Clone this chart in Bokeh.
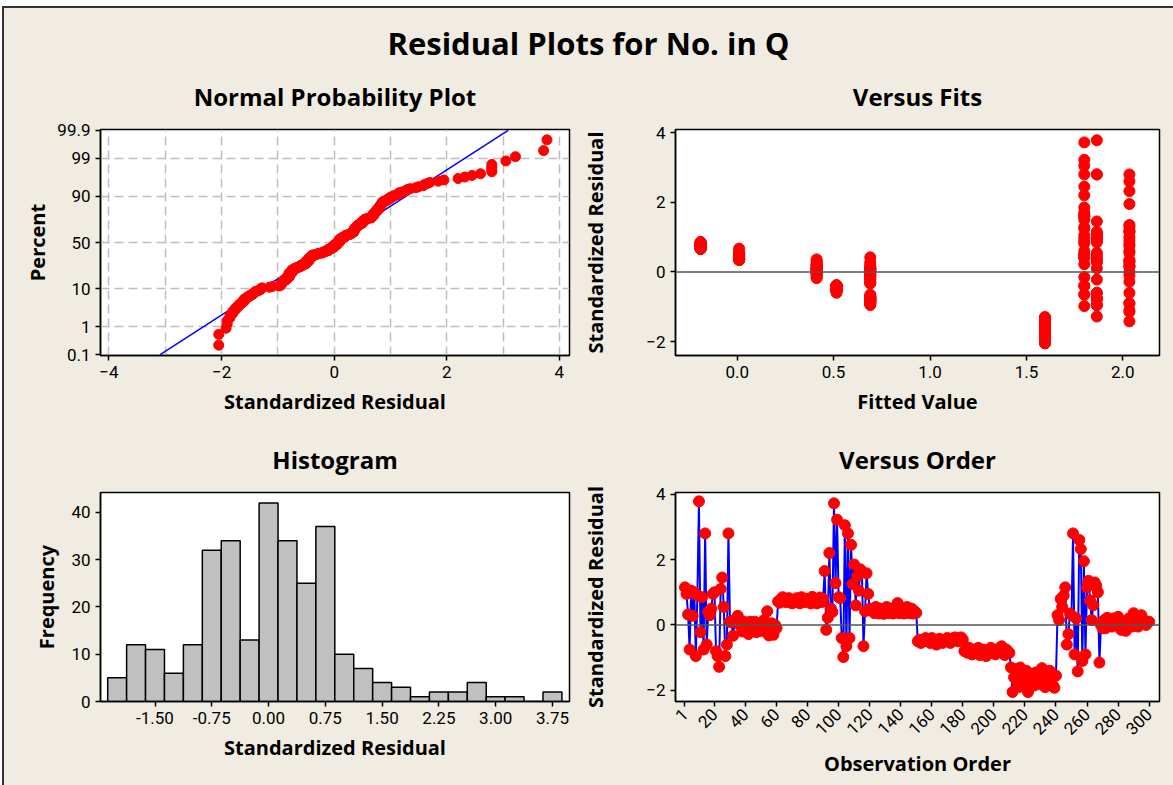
import math
from statistics import NormalDist
from bokeh.plotting import figure
from bokeh.models import Range1d, FixedTicker, NumeralTickFormatter, CustomJSTickFormatter, Span, Div
from bokeh.layouts import row, column
from bokeh.embed import file_html
from bokeh.resources import INLINE

BG = "#F0ECE2"
FONT = "Roboto"
TFONT = "Open Sans"

# ---- standardized residuals in observation order, 10 blocks of 30 ----
seg01 = [1.15, 0.95, 0.32, -0.75, 1.05, 0.28, 1.0, -0.95, 0.9, 3.78, -0.22, 0.85, -0.75, 2.8, -0.6,
         0.4, 0.3, 0.5, 0.95, 1.0, -0.8, -0.95, -1.28, 1.1, 1.45, 0.55, -0.95, -0.6, 2.8, 0.1]
seg02 = [0.08, -0.33, 0.12, 0.2, 0.28, 0.05, -0.05, -0.2, 0.1, -0.15, 0.05, -0.28, 0.1, -0.1, 0.0,
         0.1, -0.22, 0.05, -0.1, -0.18, 0.0, 0.15, -0.05, 0.42, -0.32, -0.1, 0.05, -0.3, 0.0, -0.1]
seg03 = [0.72, 0.68, 0.8, 0.85, 0.75, 0.7, 0.78, 0.82, 0.7, 0.66, 0.72, 0.76, 0.82, 0.7, 0.66,
         0.85, 0.75, 0.7, 0.8, 0.76, 0.7, 0.66, 0.86, 0.8, 0.72, 0.66, 0.75, 0.84, 0.7, 0.8]
seg04 = [1.65, -0.15, 0.22, 2.2, 0.5, 0.4, 3.72, 1.28, 3.22, 0.85, 0.82, -0.4, -0.98, 3.05, -0.65,
         2.8, -0.4, 2.45, 1.25, 1.85, 0.6, 1.5, 1.05, 1.7, 1.6, -0.65, 0.42, 1.58, 0.95, 0.5]
seg05 = [0.45, 0.5, 0.36, 0.55, 0.42, 0.35, 0.5, 0.37, 0.34, 0.48, 0.55, 0.36, 0.4, 0.5, 0.35,
         0.37, 0.45, 0.67, 0.36, 0.4, 0.52, 0.35, 0.37, 0.55, 0.45, 0.36, 0.5, 0.35, 0.42, 0.37]
seg06 = [-0.5, -0.45, -0.55, -0.5, -0.45, -0.4, -0.5, -0.45, -0.55, -0.4, -0.5, -0.45, -0.6, -0.5, -0.42,
         -0.45, -0.55, -0.5, -0.45, -0.4, -0.5, -0.55, -0.45, -0.4, -0.38, -0.45, -0.5, -0.4, -0.38, -0.45]
seg07 = [-0.8, -0.75, -0.85, -0.7, -0.8, -0.9, -0.75, -0.85, -0.8, -0.7, -0.92, -0.8, -0.75, -0.85, -0.95,
         -0.8, -0.75, -0.7, -0.85, -0.8, -0.9, -0.75, -0.8, -0.7, -0.65, -0.8, -0.92, -0.75, -0.8, -0.85]
seg08 = [-1.3, -2.05, -1.6, -1.35, -1.75, -1.9, -1.3, -1.65, -1.5, -1.8, -1.4, -2.05, -1.6, -1.7, -1.5,
         -1.85, -1.45, -1.65, -1.8, -1.55, -1.32, -1.75, -1.9, -1.45, -1.6, -1.4, -1.7, -1.85, -1.92, -1.55]
seg09 = [0.3, 0.15, 0.8, 0.55, 0.9, 1.15, -0.6, -0.28, 0.35, 0.3, 2.8, -0.9, 0.2, -1.42, 2.6,
         2.32, -1.1, 1.95, -0.9, 1.15, 1.35, 0.75, 0.15, 0.6, 1.3, 1.2, 1.0, -1.15, 0.0, -0.1]
seg10 = [0.15, -0.1, 0.22, 0.05, 0.1, -0.05, 0.2, 0.0, 0.1, 0.25, 0.05, -0.15, 0.1, 0.0, -0.18,
         0.1, 0.2, 0.05, -0.05, 0.36, 0.0, 0.12, -0.05, 0.05, 0.3, 0.18, 0.1, 0.0, 0.08, 0.1]
segments = [seg01, seg02, seg03, seg04, seg05, seg06, seg07, seg08, seg09, seg10]

# fitted value of each block
segment_fits = [1.865, 0.69, -0.19, 1.80, 0.01, 0.515, 0.69, 1.596, 2.034, 0.412]

# histogram
hist_first_mid = -2.0
hist_bin_width = 0.25
hist_counts = [5, 12, 11, 6, 12, 32, 34, 13, 42, 34, 25, 37, 10, 7, 4, 3, 1, 2, 2, 4, 1, 1, 0, 2]

# normal probability plot
pct_ticks = [0.1, 1, 10, 50, 90, 99, 99.9]
pct_labels = ["0.1", "1", "10", "50", "90", "99", "99.9"]
pct_grid = [1, 10, 50, 90, 99]
fit_mean = 0.0
fit_sd = 1.0

hist_ticks = [-1.5, -0.75, 0.0, 0.75, 1.5, 2.25, 3.0, 3.75]
fits_ticks = [0.0, 0.5, 1.0, 1.5, 2.0]
order_ticks = [1, 20, 40, 60, 80, 100, 120, 140, 160, 180, 200, 220, 240, 260, 280, 300]

residuals = [v for s in segments for v in s]
n = len(residuals)
order = list(range(1, n + 1))
fitted = [f for f, s in zip(segment_fits, segments) for _ in s]

nd = NormalDist()
def zq(p):
    return nd.inv_cdf(p / 100.0)


def base_style(p, title):
    p.background_fill_color = "white"
    p.border_fill_color = BG
    p.outline_line_color = "black"
    p.outline_line_width = 1.5
    p.outline_line_alpha = 1.0
    p.title.text = title
    p.title.align = "center"
    p.title.text_font = TFONT
    p.title.text_font_size = "24px"
    p.title.text_font_style = "bold"
    p.title.text_color = "black"
    p.title.standoff = 34
    for ax in (p.xaxis[0], p.yaxis[0]):
        ax.axis_line_color = "black"
        ax.axis_line_width = 1.5
        ax.major_tick_line_color = "black"
        ax.major_tick_line_width = 1.5
        ax.major_tick_in = 0
        ax.major_tick_out = 5
        ax.minor_tick_line_color = None
        ax.major_label_text_font = FONT
        ax.major_label_text_font_size = "17px"
        ax.major_label_text_color = "black"
        ax.major_label_standoff = 5
        ax.axis_label_text_font = TFONT
        ax.axis_label_text_font_size = "20px"
        ax.axis_label_text_font_style = "bold"
        ax.axis_label_text_color = "black"
    p.xgrid.grid_line_color = None
    p.ygrid.grid_line_color = None


def make_fig(w, h, left, right, top, bottom, xr, yr):
    p = figure(width=w, height=h, output_backend="svg", toolbar_location=None,
               x_range=Range1d(*xr), y_range=Range1d(*yr),
               min_border_left=left, min_border_right=right,
               min_border_top=top, min_border_bottom=bottom, margin=0)
    return p

# ---------------- Normal probability plot ----------------
p1 = make_fig(571, 360, 96, 6, 68, 65, (-4.15, 4.18), (-3.115, 3.115))
base_style(p1, "Normal Probability Plot")
sorted_res = sorted(residuals)
pp_z = [zq(100.0 * (i + 1 - 0.3) / (n + 0.4)) for i in range(n)]
zt = [zq(t) for t in pct_ticks]
p1.yaxis[0].ticker = FixedTicker(ticks=zt)
p1.yaxis[0].formatter = CustomJSTickFormatter(args=dict(tv=zt, tl=pct_labels), code="""
for (let i = 0; i < tv.length; i++) { if (Math.abs(tv[i] - tick) < 1e-6) return tl[i]; }
return '';
""")
p1.xaxis[0].ticker = FixedTicker(ticks=[-4, -2, 0, 2, 4])
p1.xgrid.ticker = FixedTicker(ticks=[-4, -3, -2, -1, 0, 1, 2, 3, 4])
p1.ygrid.ticker = FixedTicker(ticks=[zq(g) for g in pct_grid])
for g in (p1.xgrid, p1.ygrid):
    g.grid_line_color = "#BEBEBE"
    g.grid_line_width = 1.5
    g.grid_line_dash = "9 5"
p1.xaxis.axis_label = "Standardized Residual"
p1.yaxis.axis_label = "Percent"
p1.xaxis[0].axis_label_standoff = 7
p1.yaxis[0].axis_label_standoff = 3
zl = [zq(0.1), zq(99.9)]
p1.line([fit_mean + z * fit_sd for z in zl], zl, line_color="#0000FF", line_width=1.5)
p1.scatter(sorted_res, pp_z, size=10, fill_color="#FF0000", line_color="#FF0000")

# ---------------- Versus fits ----------------
p2 = make_fig(598, 360, 100, 14, 68, 65, (-0.32, 2.19), (-2.4, 4.09))
base_style(p2, "Versus Fits")
p2.xaxis[0].ticker = FixedTicker(ticks=fits_ticks)
p2.xaxis[0].formatter = NumeralTickFormatter(format="0.0")
p2.yaxis[0].ticker = FixedTicker(ticks=[-2, 0, 2, 4])
p2.xaxis.axis_label = "Fitted Value"
p2.yaxis.axis_label = "Standardized Residual"
p2.xaxis[0].axis_label_standoff = 7
p2.yaxis[0].axis_label_standoff = 34
p2.add_layout(Span(location=0, dimension="width", line_color="#555555", line_width=1.5))
p2.scatter(fitted, residuals, size=11, fill_color="#FF0000", line_color="#FF0000")

# ---------------- Histogram ----------------
p3 = make_fig(571, 365, 96, 6, 72, 84, (-2.22, 3.975), (0, 44.2))
base_style(p3, "Histogram")
mids = [hist_first_mid + i * hist_bin_width for i in range(len(hist_counts))]
p3.vbar(x=mids, top=hist_counts, width=hist_bin_width, bottom=0,
        fill_color="#C0C0C0", line_color="black", line_width=1.5)
p3.xaxis[0].ticker = FixedTicker(ticks=hist_ticks)
p3.xaxis[0].formatter = NumeralTickFormatter(format="0.00")
p3.yaxis[0].ticker = FixedTicker(ticks=[0, 10, 20, 30, 40])
p3.xaxis.axis_label = "Standardized Residual"
p3.yaxis.axis_label = "Frequency"
p3.xaxis[0].axis_label_standoff = 7
p3.yaxis[0].axis_label_standoff = 8

# ---------------- Versus order ----------------
p4 = make_fig(598, 365, 100, 14, 72, 84, (-5.1, 306.7), (-2.34, 4.05))
base_style(p4, "Versus Order")
p4.xaxis[0].ticker = FixedTicker(ticks=order_ticks)
p4.xaxis[0].major_label_orientation = math.pi / 4
p4.yaxis[0].ticker = FixedTicker(ticks=[-2, 0, 2, 4])
p4.xaxis.axis_label = "Observation Order"
p4.yaxis.axis_label = "Standardized Residual"
p4.xaxis[0].axis_label_standoff = 7
p4.yaxis[0].axis_label_standoff = 34
p4.add_layout(Span(location=0, dimension="width", line_color="#555555", line_width=1.5))
p4.line(order, residuals, line_color="#0000FF", line_width=2)
p4.scatter(order, residuals, size=11, fill_color="#FF0000", line_color="#FF0000")

# ---------------- page ----------------
W_IN = 1169
title = Div(text='<div style="width:%dpx;text-align:center;font-family:\'Open Sans\';font-weight:bold;'
                 'font-size:31px;line-height:36px;padding-top:17px;color:black;">Residual Plots for No. in Q</div>' % W_IN,
            width=W_IN, height=52, margin=0, styles={"background-color": BG})
top_line = Div(text="", width=W_IN, height=2, margin=0, styles={"background-color": "#333333"})
left_line = Div(text="", width=2, height=779, margin=0, styles={"background-color": "#333333"})
left_pad = Div(text="", width=2, height=779, margin=0, styles={"background-color": "white"})
top_pad = Div(text="", width=1173, height=6, margin=0, styles={"background-color": "white"})

r1 = row(p1, p2, spacing=0, margin=0, styles={"background-color": BG})
r2 = row(p3, p4, spacing=0, margin=0, styles={"background-color": BG})
col = column(top_line, title, r1, r2, spacing=0, margin=0, styles={"background-color": BG})
body = row(left_pad, left_line, col, spacing=0, margin=0)
layout = column(top_pad, body, spacing=0, margin=0)

open("out.html", "w").write(file_html(layout, INLINE))
